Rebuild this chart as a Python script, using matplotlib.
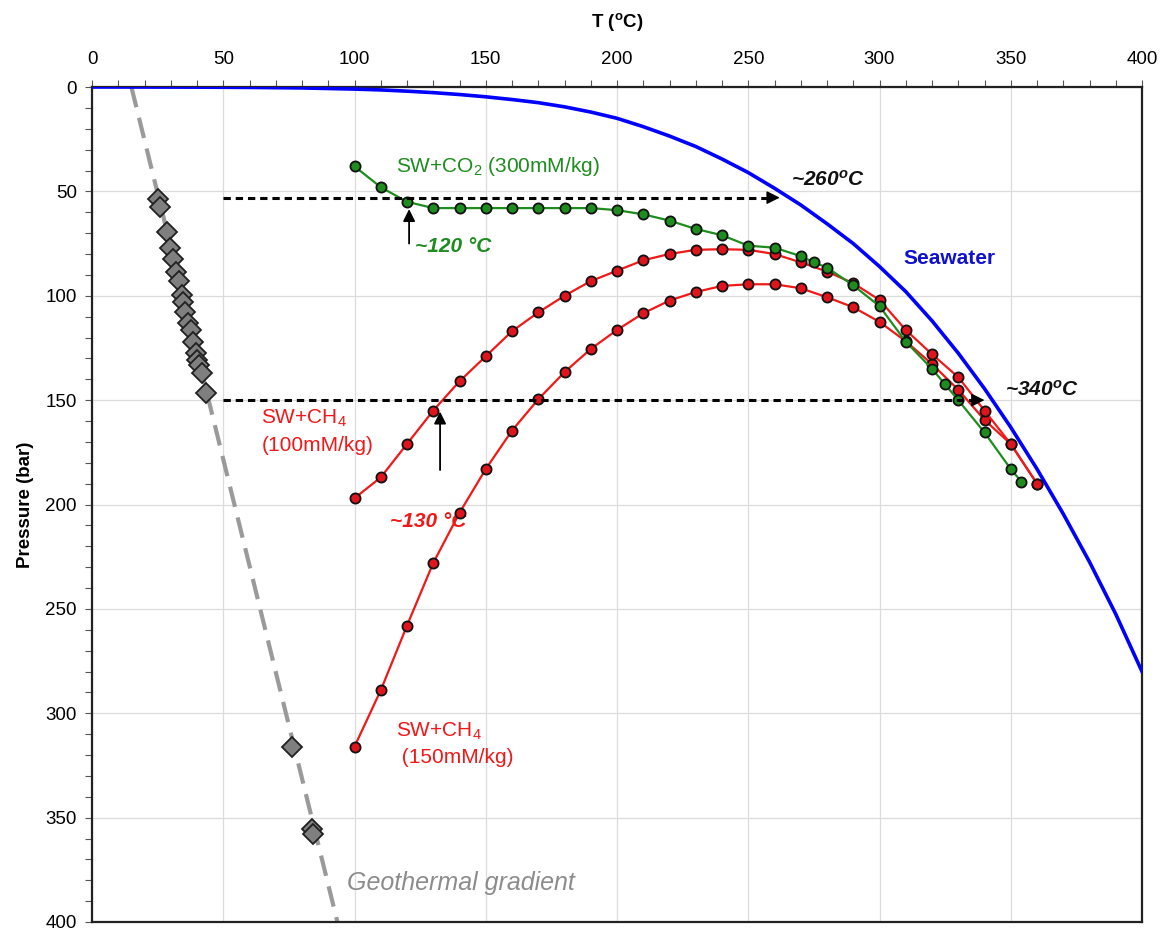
import matplotlib
matplotlib.use("Agg")
import matplotlib.pyplot as plt
from matplotlib.ticker import MultipleLocator

plt.rcParams['font.family'] = ['Liberation Sans', 'DejaVu Sans']
plt.rcParams['mathtext.default'] = 'regular'

# Seawater two-phase boundary
sw_T = [0, 20, 40, 60, 80, 100, 110, 120, 130, 140, 150, 160, 170, 180, 190, 200,
        210, 220, 230, 240, 250, 260, 270, 280, 290, 300, 310, 320, 330, 340, 350,
        360, 370, 380, 390, 400]
sw_P = [0, 0.02, 0.07, 0.2, 0.45, 1.0, 1.4, 2.0, 2.7, 3.6, 4.7, 6.0, 7.5, 9.5, 12.0, 15.0,
        19.0, 23.5, 28.5, 34.5, 41.0, 48.5, 56.5, 65.5, 75.0, 86.0, 98.0, 112.0, 127.5, 144.5, 163.0,
        183.0, 204.5, 227.5, 252.5, 280.0]

# SW + CO2 (300 mM/kg)
co2_T = [100, 110, 120, 130, 140, 150, 160, 170, 180, 190, 200, 210, 220, 230, 240,
         250, 260, 270, 275, 280, 290, 300, 310, 320, 325, 330, 340, 350, 354]
co2_P = [38, 48, 55, 58, 58, 58, 58, 58, 58, 58, 59, 61, 64, 68, 71,
         76, 77, 81, 84, 86.5, 95, 105, 122, 135, 142.5, 150, 165.5, 183, 189]

# SW + CH4 (100 mM/kg)
ch4a_T = [100, 110, 120, 130, 140, 150, 160, 170, 180, 190, 200, 210, 220, 230,
          240, 250, 260, 270, 280, 290, 300, 310, 320, 330, 340, 350, 360]
ch4a_P = [197, 187, 171, 155, 141, 129, 117, 108, 100, 93, 88, 83, 80, 78,
          77.7, 78, 80, 84, 88.4, 94, 102, 116.4, 128, 139, 155, 171, 190]

# SW + CH4 (150 mM/kg)
ch4b_T = [100, 110, 120, 130, 140, 150, 160, 170, 180, 190, 200, 210, 220, 230,
          240, 250, 260, 270, 280, 290, 300, 310, 320, 330, 340, 350, 360]
ch4b_P = [316, 289, 258, 228, 204, 183, 164.6, 149.6, 136.6, 125.5, 116.4, 108.4, 102.3, 98.2,
          95.3, 94.5, 94.5, 96.4, 100.7, 105.5, 112.5, 121.8, 132.7, 145, 159.5, 171, 190]

# Vent fluid / seafloor observations
geo_T = [25.3, 25.9, 28.4, 29.7, 31.0, 32.0, 33.1, 34.2, 34.8, 35.4, 36.7, 37.6,
         38.6, 39.6, 40.1, 40.9, 41.8, 43.4, 76.3, 83.7, 84.3]
geo_P = [53.8, 57.3, 69.3, 77.3, 82.5, 88.4, 92.8, 99.6, 102.8, 107.6, 113.2, 116.4,
         122.0, 127.2, 130.7, 133.1, 137.1, 146.4, 316.0, 355.5, 358.0]

# Geothermal gradient line
grad_T = [15, 93.5]
grad_P = [0, 400]

GREEN = '#1e8c1e'
RED = '#f01818'
RED_FACE = '#e0141c'
BLUE = '#0000ff'
GRAY = '#8c8c8c'

fig = plt.figure(figsize=(11.71, 9.34), dpi=100)
ax = fig.add_axes([92 / 1171, 1 - 922 / 934, (1142 - 92) / 1171, (922 - 87) / 934])

ax.set_xlim(0, 400)
ax.set_ylim(400, 0)
ax.xaxis.tick_top()
ax.xaxis.set_label_position('top')
ax.xaxis.set_major_locator(MultipleLocator(50))
ax.xaxis.set_minor_locator(MultipleLocator(10))
ax.yaxis.set_major_locator(MultipleLocator(50))
ax.yaxis.set_minor_locator(MultipleLocator(10))
ax.tick_params(axis='x', which='both', direction='out', length=5, width=0.8,
               color='#555555', labelsize=13.5, pad=9, top=True, bottom=False)
ax.tick_params(axis='y', which='both', direction='out', length=5, width=0.8,
               color='#555555', labelsize=13.5, pad=6, right=False)
ax.grid(True, which='major', color='#dcdcdc', linewidth=0.9)
ax.set_axisbelow(True)
for s in ax.spines.values():
    s.set_linewidth(1.6)
    s.set_color('#222222')

ax.set_xlabel('T ($^{o}$C)', fontsize=13.5, fontweight='bold', labelpad=17)
ax.set_ylabel('Pressure (bar)', fontsize=13.5, fontweight='bold', labelpad=8)

# geothermal gradient and observations
ax.plot(grad_T, grad_P, color='#9a9a9a', lw=3.0, dashes=(5, 2.6),
        solid_capstyle='butt', zorder=2)
ax.plot(geo_T, geo_P, linestyle='none', marker='D', markersize=10,
        markerfacecolor='#7f7f7f', markeredgecolor='#202020', markeredgewidth=1.3, zorder=3)

# seawater boundary
ax.plot(sw_T, sw_P, color=BLUE, lw=2.6, zorder=3)

mk = dict(marker='o', markersize=7.3, markeredgecolor='#111111', markeredgewidth=1.3)
ax.plot(ch4b_T, ch4b_P, color=RED, lw=1.6, markerfacecolor=RED_FACE, zorder=4, **mk)
ax.plot(ch4a_T, ch4a_P, color=RED, lw=1.6, markerfacecolor=RED_FACE, zorder=5, **mk)
ax.plot(co2_T, co2_P, color=GREEN, lw=1.6, markerfacecolor=GREEN, zorder=6, **mk)

# dashed horizontal guides with arrow heads
for p, t_end in [(53, 262), (150, 340)]:
    ax.plot([50, t_end - 4], [p, p], color='black', lw=2.2, dashes=(2.4, 1.6), zorder=7)
    ax.annotate('', xy=(t_end, p), xytext=(t_end - 5, p),
                arrowprops=dict(arrowstyle='-|>', color='black', lw=1.0,
                                mutation_scale=20, shrinkA=0, shrinkB=0), zorder=8)

# vertical pointers
ax.annotate('', xy=(120.8, 58.5), xytext=(120.8, 75),
            arrowprops=dict(arrowstyle='-|>', color='black', lw=1.3,
                            mutation_scale=18, shrinkA=0, shrinkB=0), zorder=8)
ax.annotate('', xy=(132.6, 155.5), xytext=(132.6, 183.5),
            arrowprops=dict(arrowstyle='-|>', color='black', lw=1.3,
                            mutation_scale=18, shrinkA=0, shrinkB=0), zorder=8)

# annotations
ax.text(115.8, 38.2, 'SW+CO$_2$ (300mM/kg)', color=GREEN, fontsize=15,
        ha='left', va='center')
ax.text(137.5, 76.5, '~120 °C', color=GREEN, fontsize=15, fontweight='bold',
        fontstyle='italic', ha='center', va='center')
ax.text(280.5, 44.5, '~260$^{o}$C', color='#111111', fontsize=15, fontweight='bold',
        fontstyle='italic', ha='center', va='center')
ax.text(326.5, 82, 'Seawater', color='#1010d0', fontsize=15, fontweight='bold',
        ha='center', va='center')
ax.text(362, 145, '~340$^{o}$C', color='#111111', fontsize=15, fontweight='bold',
        fontstyle='italic', ha='center', va='center')
ax.text(64.5, 165, 'SW+CH$_4$\n(100mM/kg)', color=RED, fontsize=15,
        ha='left', va='center', linespacing=1.45)
ax.text(128, 208, '~130 °C', color=RED, fontsize=15, fontweight='bold',
        fontstyle='italic', ha='center', va='center')
ax.text(115.8, 314.5, 'SW+CH$_4$\n (150mM/kg)', color=RED, fontsize=15,
        ha='left', va='center', linespacing=1.4)
ax.text(97, 381.5, 'Geothermal gradient', color=GRAY, fontsize=18,
        fontstyle='italic', ha='left', va='center')

fig.savefig('out.png', dpi=100)
